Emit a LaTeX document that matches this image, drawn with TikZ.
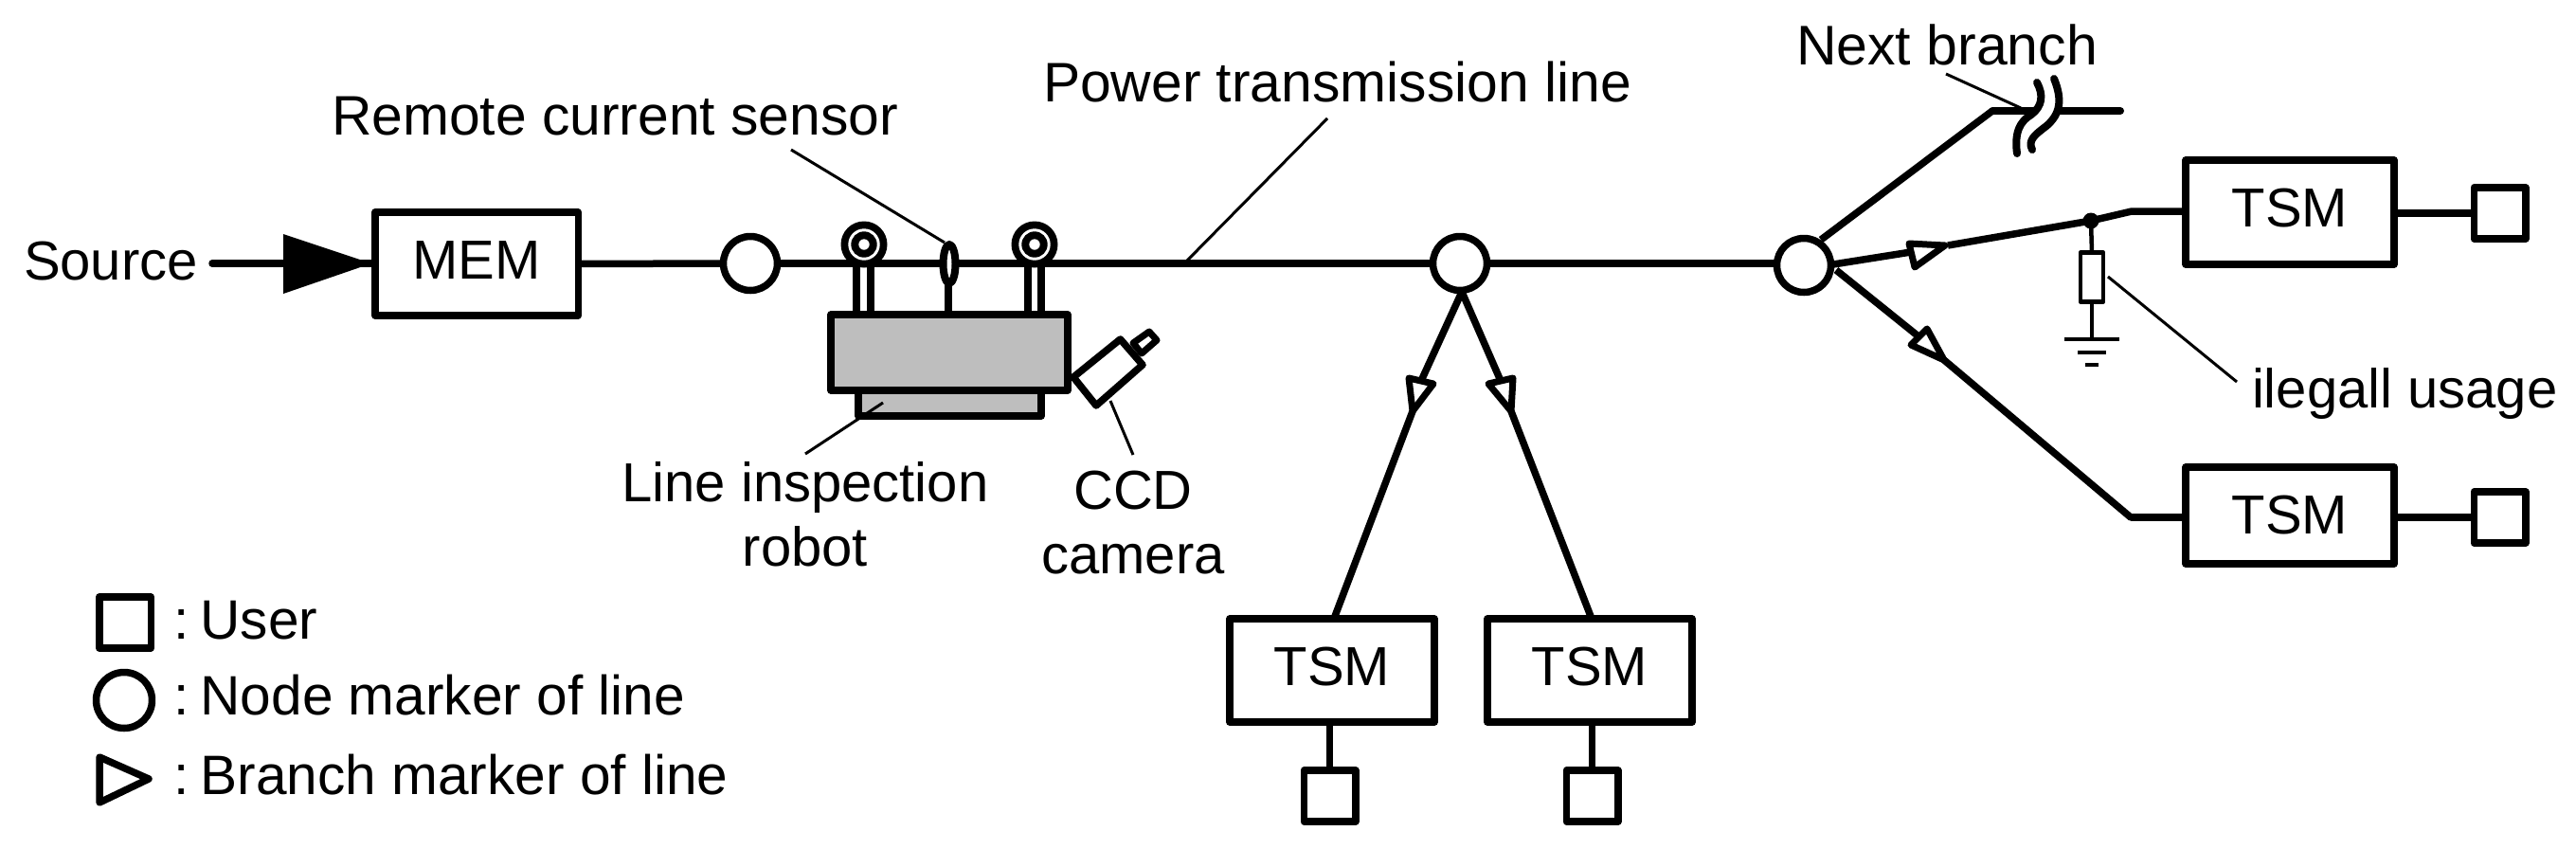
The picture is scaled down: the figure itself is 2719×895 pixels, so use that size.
\documentclass[tikz,border=0pt]{standalone}
\usepackage{fontspec}
\setmainfont{Liberation Sans}
\definecolor{robotgray}{RGB}{190,190,190}
\tikzset{
  lbl/.style={inner sep=0pt,outer sep=0pt,anchor=base west,font=\fontsize{58}{68}\selectfont},
  mlbl/.style={inner sep=0pt,outer sep=0pt,align=center,font=\fontsize{58}{68}\selectfont},
  modbox/.style={draw=black,fill=white,line width=7.5pt,rectangle,inner sep=0pt,outer sep=0pt,
    minimum width=#1,font=\fontsize{58}{68}\selectfont,text height=41pt,text depth=9pt},
  userbox/.style={draw=black,fill=white,line width=7.5pt,rectangle,inner sep=0pt,outer sep=0pt,minimum width=54.5pt,minimum height=54pt},
  linenode/.style={draw=black,fill=white,line width=7.5pt,circle,inner sep=0pt,outer sep=0pt,minimum size=57pt},
  wire/.style={line width=7.5pt,draw=black},
  thin wire/.style={line width=4.5pt,draw=black},
  leader/.style={line width=3pt,draw=black},
  brmark/.style={draw=black,fill=white,line width=7pt},
  breakmark/.style={draw=black,line width=8pt,line cap=round},
  every path/.append style={line join=round}
}
\begin{document}
\begin{tikzpicture}[x=1pt,y=-1pt]
\useasboundingbox (0,0) rectangle (2719,895);
% coordinates
\coordinate (srcS) at (224,278);
\coordinate (srcA) at (299,247);
\coordinate (srcB) at (392,278);
\coordinate (srcC) at (299,310);
% boxes and node markers
\node[modbox=214.5pt,minimum height=109pt] (mem) at (503,278.5) {MEM};
\node[linenode] (n1) at (792,278) {};
\node[linenode] (n2) at (1541,278) {};
\node[linenode] (n3) at (1904,280) {};
\node[modbox=216pt,minimum height=109pt] (tsmA) at (1406,707.5) {TSM};
\node[modbox=216pt,minimum height=109pt] (tsmB) at (1678,707.5) {TSM};
\node[modbox=220pt,minimum height=110pt,text depth=11pt] (tsmC) at (2417,224) {TSM};
\node[modbox=220pt,minimum height=102pt,text height=41pt,text depth=3pt] (tsmD) at (2417,544) {TSM};
\node[userbox] (uA) at (1403.5,840) {};
\node[userbox] (uB) at (1680.5,840) {};
\node[userbox] (uC) at (2638.5,225) {};
\node[userbox] (uD) at (2638.5,546) {};
% main line
\draw[wire,line cap=round] (srcS) -- (srcB);
\fill[black] (srcA) -- (srcB) -- (srcC) -- cycle;
\draw[wire] (mem.east) -- (n1.west);
\draw[wire] (n1.east) -- (n2.west);
\draw[wire] (n2.east) -- (n3.west |- n2);
% TSM stems
\draw[wire] (tsmA.south -| uA) -- (uA.north);
\draw[wire] (tsmB.south -| uB) -- (uB.north);
\draw[wire] (tsmC.east |- uC) -- (uC.west);
\draw[wire] (tsmD.east |- uD) -- (uD.west);
% robot rods and sensor stem
\draw[wire] (904,278) -- (904,332);
\draw[wire] (919,278) -- (919,332);
\draw[wire] (1085,278) -- (1085,332);
\draw[wire] (1099,278) -- (1099,332);
\draw[wire] (1001,290) -- (1001,332);
% robot body
\draw[line width=7.5pt,fill=robotgray] (906,412) rectangle (1099,439);
\draw[line width=7.5pt,fill=robotgray] (877,332) rectangle (1127,412);
% wheels
\foreach \wx in {912,1092}{
  \fill[black] (\wx,258) circle[radius=24.5pt];
  \fill[white] (\wx,258) circle[radius=16.7pt];
  \fill[black] (\wx,258) circle[radius=13.7pt];
  \fill[white] (\wx,258) circle[radius=5.7pt];
}
% current sensor
\draw[line width=8pt,fill=white] (1002,278.5) ellipse[x radius=6.5pt,y radius=20.5pt];
% camera
\draw[line width=7pt,fill=white] (1213,350) -- (1221,359) -- (1205,373) -- (1196,362) -- cycle;
\draw[line width=7.5pt,fill=white] (1182.5,358) -- (1206,385) -- (1157,428) -- (1133,398) -- cycle;
% leaders
\coordinate (ldRemA) at (835,158);
\coordinate (ldRemB) at (997,256);
\draw[leader] (ldRemA) -- (ldRemB);
\coordinate (ldPowA) at (1401,125);
\coordinate (ldPowB) at (1253,275);
\draw[leader] (ldPowA) -- (ldPowB);
\coordinate (ldRobA) at (932,425);
\coordinate (ldRobB) at (850,479);
\draw[leader] (ldRobA) -- (ldRobB);
\coordinate (ldCamA) at (1172,423);
\coordinate (ldCamB) at (1196,480);
\draw[leader] (ldCamA) -- (ldCamB);
% lower node branches
\coordinate (n2b) at (1543,308);
\coordinate (aBase) at (1500,402);
\coordinate (aApex) at (1491,434);
\coordinate (aEnd) at (1408,653);
\coordinate (bBase) at (1584,402);
\coordinate (bApex) at (1595,434);
\coordinate (bEnd) at (1680,653);
\draw[wire] (n2b) -- (aBase);
\draw[wire] (aApex) -- (aEnd);
\draw[wire] (n2b) -- (bBase);
\draw[wire] (bApex) -- (bEnd);
\draw[brmark] (1487,399) -- (1513,405) -- (aApex) -- cycle;
\draw[brmark] (1597,399) -- (1571,405) -- (bApex) -- cycle;
% next branch
\coordinate (nbStart) at (1922,253);
\coordinate (nbBend) at (2103,117);
\coordinate (nbEnd) at (2238,117);
\draw[wire] (nbStart) -- (nbBend);
\draw[wire,line width=8pt,line cap=round] (nbBend) -- (nbEnd);
\fill[white] (2150,87) .. controls (2157,100) and (2156,112) .. (2144,121) .. controls (2132,128) and (2126,140) .. (2129,162)
  -- (2145,158) .. controls (2140,148) and (2148,142) .. (2160,133) .. controls (2175,120) and (2177,105) .. (2168,83) -- cycle;
\draw[breakmark] (2150,87) .. controls (2157,100) and (2156,112) .. (2144,121) .. controls (2132,128) and (2126,140) .. (2129,162);
\draw[breakmark] (2168,83) .. controls (2177,105) and (2175,120) .. (2160,133) .. controls (2148,142) and (2140,148) .. (2145,158);
\coordinate (ldNxtA) at (2054,78);
\coordinate (ldNxtB) at (2133,114);
\draw[leader] (ldNxtA) -- (ldNxtB);
% middle branch
\coordinate (cStart) at (1935,279);
\coordinate (cBase) at (2017,266);
\coordinate (cApex) at (2056,259);
\coordinate (cDot) at (2207,233);
\coordinate (cBend) at (2250,223);
\draw[wire] (cStart) -- (cBase);
\draw[wire] (cApex) -- (cDot);
\draw[wire] (cDot) -- (cBend) -- (tsmC.west |- cBend);
\draw[brmark] (2015,257) -- (2053,259) -- (2021,282) -- cycle;
\fill[black] (cDot) circle[radius=8.5pt];
% illegal usage shunt
\node[draw=black,fill=white,line width=4.5pt,rectangle,inner sep=0pt,outer sep=0pt,minimum width=24pt,minimum height=52pt] (res) at (2208,292.5) {};
\coordinate (gnd) at (2208,358);
\draw[thin wire] (cDot) -- (res.north);
\draw[thin wire] (res.south) -- (gnd);
\draw[thin wire] (2179,358) -- (2237,358);
\draw[thin wire] (2193,372) -- (2223,372);
\draw[thin wire] (2201,385) -- (2215,385);
\coordinate (ldIllA) at (2225,292);
\coordinate (ldIllB) at (2361,403);
\draw[leader] (ldIllA) -- (ldIllB);
% lower branch
\coordinate (dStart) at (1938,285);
\coordinate (dBase) at (2025,355);
\coordinate (dApex) at (2052,380);
\coordinate (dBend) at (2249,546);
\draw[wire] (dStart) -- (dBase);
\draw[wire,line cap=round] (dApex) -- (dBend);
\draw[wire] (dBend) -- (tsmD.west |- dBend);
\draw[brmark] (2034,347) -- (2017,364) -- (dApex) -- cycle;
% legend
\node[userbox] (lgU) at (132,657) {};
\node[linenode,minimum size=59pt] (lgN) at (131,739) {};
\draw[line width=7.5pt] (105,799) -- (157,822) -- (105,847) -- cycle;
% labels
\node[lbl] (tSource) at (25,295) {Source};
\node[lbl,font=\fontsize{58.8}{68}\selectfont] (tRemote) at (350,142) {Remote current sensor};
\node[lbl,font=\fontsize{58.8}{68}\selectfont] (tPower) at (1101,107) {Power transmission line};
\node[lbl,font=\fontsize{59}{68}\selectfont] (tNext) at (1896,68) {Next branch};
\node[lbl] (tIll) at (2377,430) {ilegall usage};
\node[mlbl] (tRobot) at (850,543) {Line inspection\\robot};
\node[mlbl] (tCam) at (1196,552) {CCD\\camera};
\node[lbl,font=\fontsize{58.6}{68}\selectfont] (tUser) at (183,674) {:\kern-4pt\ User};
\node[lbl,font=\fontsize{58.6}{68}\selectfont] (tNode) at (183,754) {:\kern-4pt\ Node marker of line};
\node[lbl,font=\fontsize{58.6}{68}\selectfont] (tBranch) at (183,838) {:\kern-4pt\ Branch marker of line};
\end{tikzpicture}
\end{document}
